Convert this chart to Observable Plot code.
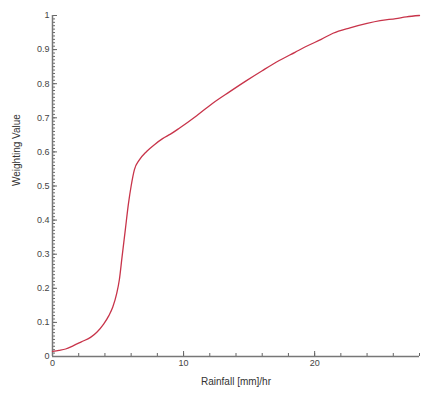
<!DOCTYPE html>
<html>
<head>
<meta charset="utf-8">
<script src="https://cdn.jsdelivr.net/npm/d3@7"></script>
<script src="https://cdn.jsdelivr.net/npm/@observablehq/plot@0.6"></script>
<style>
  html, body { margin: 0; padding: 0; background: #fff; }
  svg { display: block; }
</style>
</head>
<body>
<div id="chart"></div>
<script>
// Rainfall (mm/hr) vs weighting value
const rainfall = [0, 0.5, 1, 1.6, 2.2, 2.9, 3.4, 3.9, 4.3, 4.6, 4.9, 5.1, 5.3, 5.55, 5.8, 6.0, 6.25, 6.6, 7.2, 7.8, 8.4, 9.0, 9.7, 11, 12.2, 13.5, 14.8, 16, 17.3, 18.5, 19.5, 20.5, 21.4, 22.7, 24, 25, 26.2, 27, 28];
const weight   = [0.015, 0.018, 0.022, 0.032, 0.043, 0.056, 0.072, 0.095, 0.12, 0.145, 0.185, 0.225, 0.29, 0.37, 0.45, 0.5, 0.548, 0.575, 0.602, 0.622, 0.639, 0.652, 0.67, 0.706, 0.742, 0.776, 0.809, 0.838, 0.868, 0.892, 0.912, 0.93, 0.948, 0.964, 0.977, 0.985, 0.991, 0.996, 1.0];

const xMajorTicks = [0, 10, 20];
const xMinorTicks = d3.range(0, 29, 2);
const yMajorTicks = [0, 0.1, 0.2, 0.3, 0.4, 0.5, 0.6, 0.7, 0.8, 0.9, 1];
const yMinorTicks = d3.range(0, 101).map(i => i / 100);
const xLabel = "Rainfall [mm]/hr";
const yLabel = "Weighting Value";

const data = rainfall.map((r, i) => ({r, w: weight[i]}));

const chart = Plot.plot({
  width: 422,
  height: 396,
  marginLeft: 52,
  marginRight: 3,
  marginTop: 15,
  marginBottom: 40,
  style: {fontFamily: "Liberation Sans, Arial, sans-serif", fontSize: "9px", color: "#444", background: "#fff"},
  x: {domain: [0, 28], label: null},
  y: {domain: [0, 1], label: null},
  marks: [
    Plot.axisX(xMinorTicks, {tickSize: -3, text: null, stroke: "#666", label: null}),
    Plot.axisX(xMajorTicks, {tickSize: -5, tickPadding: 8, stroke: "#666", fill: "#444", label: null}),
    Plot.axisY(yMinorTicks, {tickSize: -3, text: null, stroke: "#666", label: null}),
    Plot.axisY(yMajorTicks, {tickSize: -5, tickPadding: 8, stroke: "#666", fill: "#444", label: null, tickFormat: d => d === 0 ? "0" : String(d)}),
    Plot.ruleY([0], {stroke: "#777", strokeWidth: 1.5}),
    Plot.ruleX([0], {stroke: "#777", strokeWidth: 1.5}),
    Plot.line(data, {x: "r", y: "w", stroke: "#c8344a", strokeWidth: 1.3, curve: "monotone-x"}),
    Plot.text([xLabel], {frameAnchor: "bottom", dy: 28, text: d => d, fontSize: 10, fill: "#333"}),
    Plot.text([yLabel], {frameAnchor: "left", dx: -36, rotate: -90, text: d => d, fontSize: 10, fill: "#333"})
  ]
});
document.getElementById("chart").appendChild(chart);
</script>
</body>
</html>
